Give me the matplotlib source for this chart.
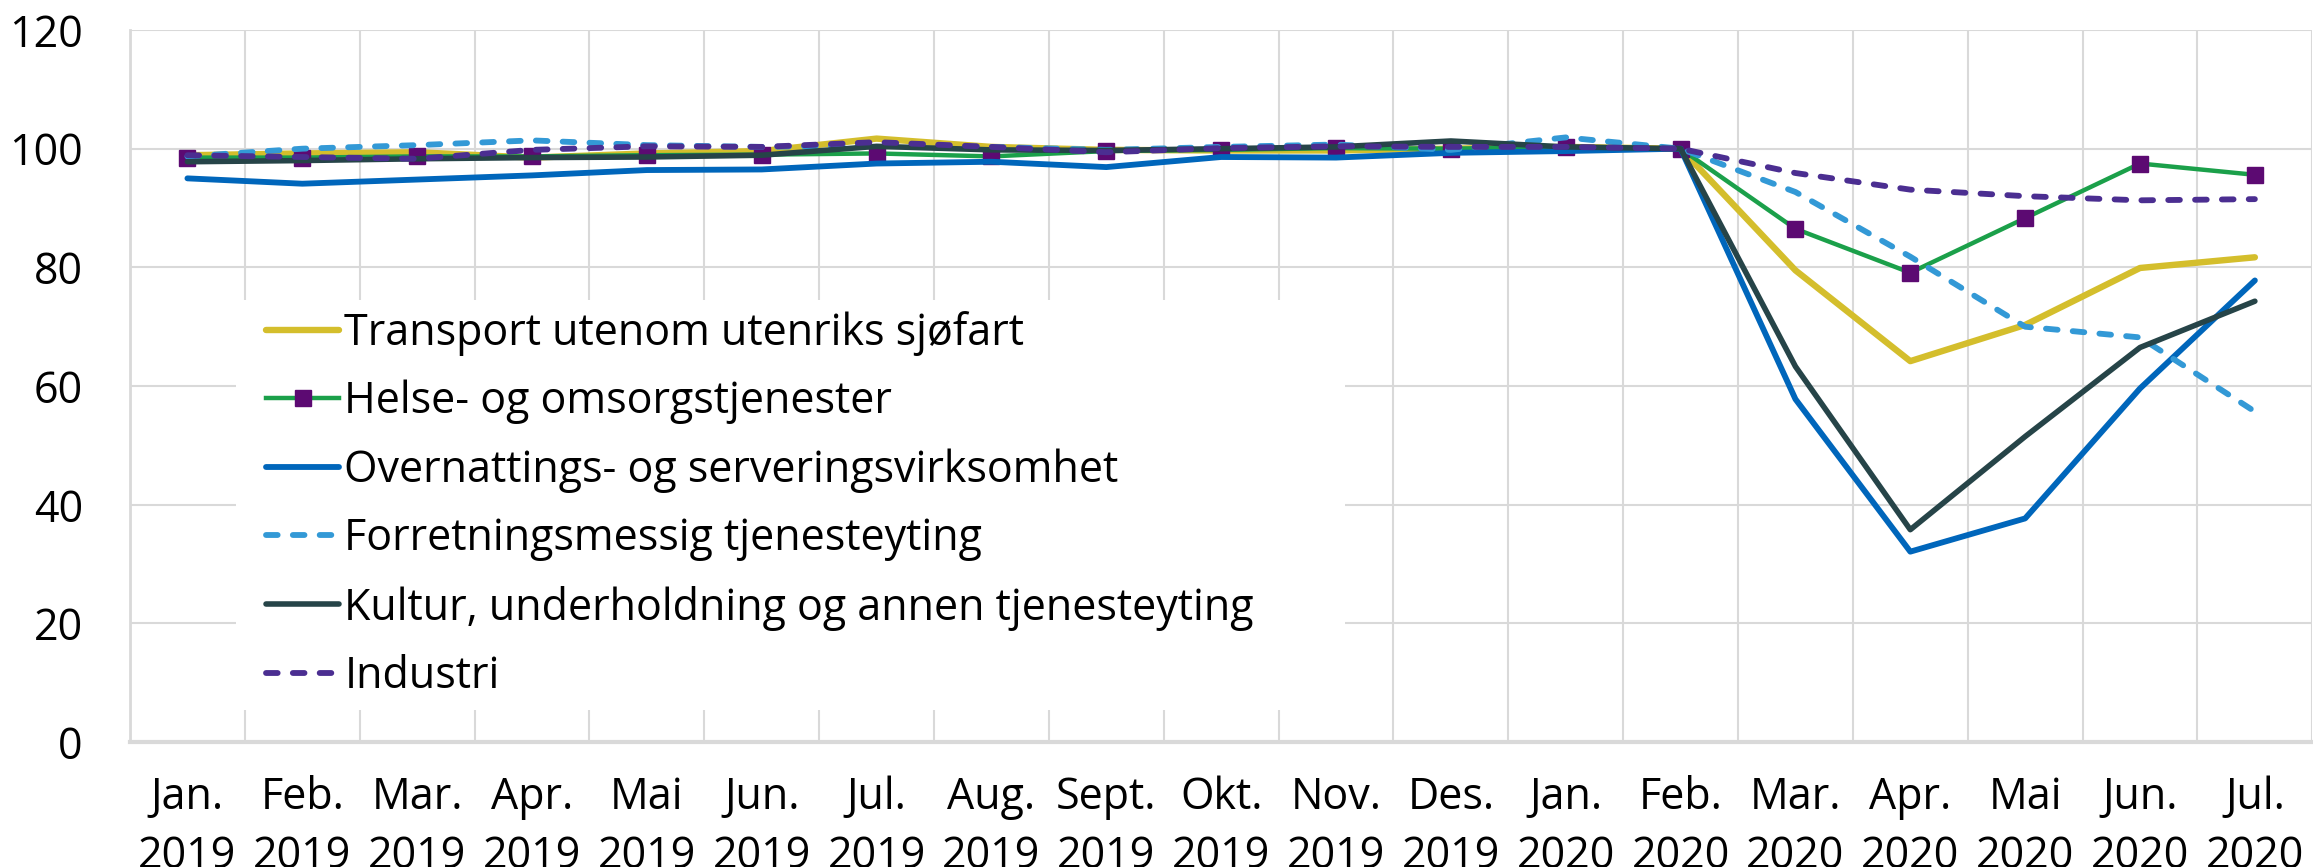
import numpy as np
import matplotlib
matplotlib.use("Agg")
import matplotlib.pyplot as plt
from matplotlib.ticker import FixedLocator
from matplotlib.patches import Rectangle

plt.rcParams['font.family'] = ['Open Sans', 'DejaVu Sans']

# -----------------------------------------------
# Data (index, Feb. 2020 = 100)
# -----------------------------------------------
months = ["Jan.\n2019", "Feb.\n2019", "Mar.\n2019", "Apr.\n2019", "Mai\n2019",
          "Jun.\n2019", "Jul.\n2019", "Aug.\n2019", "Sept.\n2019", "Okt.\n2019",
          "Nov.\n2019", "Des.\n2019", "Jan.\n2020", "Feb.\n2020", "Mar.\n2020",
          "Apr.\n2020", "Mai\n2020", "Jun.\n2020", "Jul.\n2020"]

transport = [98.9, 99.2, 99.4, 98.5, 99.2, 99.6, 101.7, 100.3, 99.8, 99.7,
             99.7, 100.0, 100.3, 100.0, 79.5, 64.2, 70.3, 79.9, 81.7]
helse = [98.5, 98.5, 98.7, 98.7, 98.9, 99.0, 99.2, 98.7, 99.6, 99.8,
         100.1, 100.0, 100.3, 100.0, 86.5, 79.1, 88.3, 97.5, 95.6]
overnatting = [95.0, 94.1, 94.8, 95.5, 96.4, 96.5, 97.5, 97.8, 96.9, 98.6,
               98.5, 99.3, 99.6, 100.0, 57.8, 32.1, 37.7, 59.6, 77.8]
forretning = [98.7, 100.0, 100.6, 101.4, 100.6, 100.3, 100.6, 100.3, 99.8, 100.3,
              100.7, 99.8, 101.9, 100.0, 92.7, 81.8, 70.0, 68.2, 55.7]
kultur = [97.8, 98.0, 98.3, 98.5, 98.6, 98.9, 100.4, 99.8, 99.7, 100.0,
          100.3, 101.3, 100.3, 100.0, 63.3, 35.8, 51.5, 66.5, 74.3]
industri = [98.9, 98.6, 98.3, 99.8, 100.4, 100.3, 101.1, 100.3, 99.4, 100.1,
            100.4, 100.3, 100.3, 100.0, 95.9, 93.1, 92.0, 91.3, 91.5]

x = np.arange(len(months))

fig = plt.figure(figsize=(23.13, 8.67), dpi=100)
ax = fig.add_axes([0.0562, 0.144, 0.9435, 0.8214])

dash = (0, (2.0, 2.6))
ax.plot(x, transport, color="#D4BE2C", lw=4.6, solid_capstyle="round",
        label="Transport utenom utenriks sjøfart")
ax.plot(x, helse, color="#1BA04A", lw=3.2, marker="s", ms=11,
        mfc="#5C0A72", mec="#5C0A72", label="Helse- og omsorgstjenester")
ax.plot(x, overnatting, color="#0066BB", lw=4.2, solid_capstyle="round",
        label="Overnattings- og serveringsvirksomhet")
ax.plot(x, forretning, color="#3399D6", lw=4.2, ls=dash,
        dash_capstyle="round", label="Forretningsmessig tjenesteyting")
ax.plot(x, kultur, color="#264448", lw=4.0, solid_capstyle="round",
        label="Kultur, underholdning og annen tjenesteyting")
ax.plot(x, industri, color="#4B2E91", lw=4.2, ls=dash,
        dash_capstyle="round", label="Industri")

ax.set_xlim(-0.5, len(months) - 0.5)
ax.set_ylim(0, 120)
ax.set_yticks(np.arange(0, 121, 20))
ax.set_xticks(x)
ax.set_xticklabels(months, linespacing=1.42)
ax.xaxis.set_minor_locator(FixedLocator(np.arange(-0.5, len(months), 1.0)))

ax.grid(axis="y", color="#D9D9D9", lw=1.5)
ax.grid(axis="x", which="minor", color="#D9D9D9", lw=1.5)
ax.set_axisbelow(True)

for side in ["top", "right"]:
    ax.spines[side].set_visible(False)
ax.spines["left"].set_color("#D9D9D9")
ax.spines["left"].set_linewidth(2)
ax.spines["bottom"].set_color("#D9D9D9")
ax.spines["bottom"].set_linewidth(3)

ax.tick_params(axis="both", which="both", length=0, labelsize=31, colors="black")
ax.tick_params(axis="y", pad=34)
ax.tick_params(axis="x", pad=24)

# white background box behind the legend (hides the grid)
ax.add_patch(Rectangle((0.0486, 0.045), 0.508, 0.576, transform=ax.transAxes,
                       facecolor="white", edgecolor="none", zorder=1.5))

leg = ax.legend(loc="upper left", bbox_to_anchor=(0.0623, 0.606), fontsize=31,
                frameon=False, borderpad=0, labelspacing=0.56,
                handlelength=1.7, handletextpad=0.12, borderaxespad=0)

fig.savefig("out.png", dpi=100)
